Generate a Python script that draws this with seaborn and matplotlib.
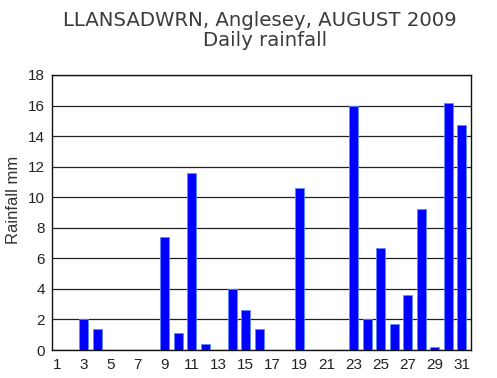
import matplotlib
matplotlib.use("Agg")
import matplotlib.pyplot as plt
import seaborn as sns
import pandas as pd

days = list(range(1, 32))
rainfall = [0, 0, 2.0, 1.4, 0, 0, 0, 0, 7.4, 1.1, 11.6, 0.4, 0, 4.0, 2.6, 1.4,
            0, 0, 10.6, 0, 0, 0, 16.0, 2.0, 6.7, 1.7, 3.6, 9.2, 0.2, 16.2, 14.7]
xticks = list(range(1, 32, 2))
yticks = list(range(0, 19, 2))
title1 = "LLANSADWRN, Anglesey, AUGUST 2009"
title2 = "Daily rainfall"
ylabel = "Rainfall mm"

df = pd.DataFrame({"day": days, "rain": rainfall})

sns.set_theme(style="white")
plt.rcParams['font.family'] = ['Liberation Sans', 'DejaVu Sans']

fig = plt.figure(figsize=(4.97, 3.78), dpi=100)
ax = fig.add_axes([52/497, 1-350/378, (471-52)/497, (350-75)/378])

sns.barplot(data=df, x="day", y="rain", native_scale=True, color="#0000FF",
            width=0.69, saturation=1, edgecolor="#5a8cff", linewidth=0.6, ax=ax, zorder=3)

ax.set_xlim(0.65, 31.68)
ax.set_ylim(0, 18)
ax.set_xticks(xticks)
ax.set_xticklabels([str(t) for t in xticks])
ax.set_yticks(yticks)
ax.set_yticklabels([str(t) for t in yticks])
ax.yaxis.grid(True, color="#222222", linewidth=0.9)
ax.set_axisbelow(True)
ax.tick_params(axis="x", length=0, labelsize=11, colors="#222222", pad=6)
ax.tick_params(axis="y", length=3, width=0.9, labelsize=11, colors="#222222", pad=2)
for s in ax.spines.values():
    s.set_visible(True)
    s.set_color("#111111")
    s.set_linewidth(1)
ax.set_xlabel("")
ax.set_ylabel("")
fig.text(14/497, 1-200/378, ylabel, rotation=90, ha="center", va="center",
         fontsize=12, color="#333333")
fig.text(259.5/497, 1-21/378, title1, ha="center", va="center", fontsize=14.2,
         color="#3c3c3c", family="DejaVu Sans")
fig.text(265/497, 1-41/378, title2, ha="center", va="center", fontsize=14.2,
         color="#3c3c3c", family="DejaVu Sans")

fig.savefig("out.png", dpi=100)
